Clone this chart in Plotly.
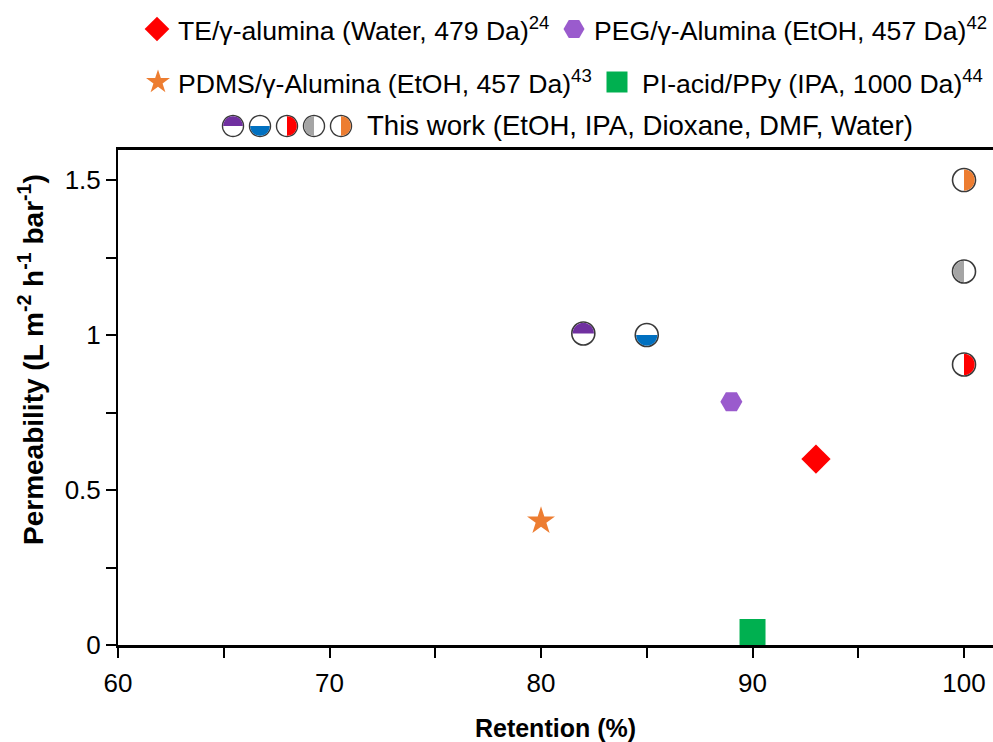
import math
import plotly.graph_objects as go

# ---------------- data ----------------
ref_names = ["TE/γ-alumina (Water, 479 Da)", "PEG/γ-Alumina (EtOH, 457 Da)",
             "PDMS/γ-Alumina (EtOH, 457 Da)", "PI-acid/PPy (IPA, 1000 Da)"]
ref_cites = ["24", "42", "43", "44"]
ref_retention = [93, 89, 80, 90]
ref_permeability = [0.60, 0.785, 0.40, 0.042]
ref_symbols = ["diamond", "hexagon2", "star", "square"]
ref_colors = ["#FF0000", "#9A5BCD", "#ED7D31", "#00B050"]
ref_sizes = [22.5, 22, 21, 26]

work_solvents = ["EtOH", "IPA", "Dioxane", "DMF", "Water"]
work_retention = [82, 85, 100, 100, 100]
work_permeability = [1.005, 1.0, 0.905, 1.205, 1.50]
work_colors = ["#7030A0", "#0070C0", "#FF0000", "#A5A5A5", "#ED7D31"]
work_half = ["top", "bottom", "right", "left", "right"]
work_label = "This work (EtOH, IPA, Dioxane, DMF, Water)"

x_tickvals = [60, 70, 80, 90, 100]
y_tickvals = [0, 0.5, 1, 1.5]
y_ticktext = ["0", "0.5", "1", "1.5"]
x_title = "Retention (%)"
y_title = "Permeability (L m<sup>-2</sup> h<sup>-1</sup> bar<sup>-1</sup>)"

FONT = "Arial, 'Liberation Sans', sans-serif"

# ---------------- geometry helpers (pixel-space styling) ----------------
def half_path(r, side, n=32):
    start = {"top": 0, "left": 90, "bottom": 180, "right": 270}[side]
    pts = []
    for i in range(n + 1):
        a = math.radians(start + 180.0 * i / n)
        pts.append((r * math.cos(a), r * math.sin(a)))
    return "M" + " L".join(f"{x:.2f},{y:.2f}" for x, y in pts) + " Z"

def circle_path(r, n=48):
    pts = []
    for i in range(n):
        a = 2 * math.pi * i / n
        pts.append((r * math.cos(a), r * math.sin(a)))
    return "M" + " L".join(f"{x:.2f},{y:.2f}" for x, y in pts) + " Z"

def symbol_path(sym, size):
    r = size / 2.0
    if sym == "diamond":
        d = r * 1.3
        return f"M{d},0 L0,{d} L{-d},0 L0,{-d} Z"
    if sym == "hexagon2":
        rA = r * 1.05
        rB = rA / 2
        rC = rA * math.sqrt(3) / 2
        return (f"M{-rB},{rC} L{rB},{rC} L{rA},0 L{rB},{-rC} L{-rB},{-rC} L{-rA},0 Z")
    if sym == "square":
        return f"M{r},{r} L{-r},{r} L{-r},{-r} L{r},{-r} Z"
    if sym == "star":
        rs = r * 1.4
        x1, x2, x3, x4 = rs * 0.225, rs * 0.951, rs * 0.363, rs * 0.588
        y1, y2, y3, y4, y5 = -rs, rs * -0.309, rs * 0.118, rs * 0.809, rs * 0.382
        pts = [(x1, y2), (x2, y2), (x3, y3), (x4, y4), (0, y5), (-x4, y4),
               (-x3, y3), (-x2, y2), (-x1, y2), (0, y1)]
        return "M" + " L".join(f"{x:.2f},{-y:.2f}" for x, y in pts) + " Z"
    return ""

fig = go.Figure()

# reference data points
for name, cite, xv, yv, sym, col, sz in zip(ref_names, ref_cites, ref_retention,
                                            ref_permeability, ref_symbols, ref_colors, ref_sizes):
    fig.add_trace(go.Scatter(
        x=[xv], y=[yv], mode="markers", name=f"{name}<sup>{cite}</sup>",
        marker=dict(symbol=sym, size=sz, color=col, line=dict(width=0)),
        cliponaxis=False, showlegend=False))

# this work: white circles with outline
fig.add_trace(go.Scatter(
    x=work_retention, y=work_permeability, mode="markers", name=work_label,
    text=work_solvents,
    marker=dict(symbol="circle", size=23, color="white", line=dict(width=1.6, color="#3a3a3a")),
    cliponaxis=False, showlegend=False))

shapes = []
for xv, yv, col, side in zip(work_retention, work_permeability, work_colors, work_half):
    shapes.append(dict(type="path", xref="x", yref="y", xsizemode="pixel", ysizemode="pixel",
                       xanchor=xv, yanchor=yv, path=half_path(10.6, side),
                       fillcolor=col, line=dict(width=0), layer="above"))

# ---------------- manual legend ----------------
PL, PR, PT, PB = 118, 993, 150, 645
def px2paper_x(px):
    return (px - PL) / (PR - PL)
def px2paper_y(py):
    return (PB - py) / (PB - PT)

annotations = []
legend_pos = [(157, 29, 176), (574, 29, 592), (158, 82, 176), (617, 82, 640)]
leg_sizes = [19, 20, 18, 21]
for (ix, iy, tx), name, cite, sym, col, lsz in zip(legend_pos, ref_names, ref_cites,
                                                   ref_symbols, ref_colors, leg_sizes):
    shapes.append(dict(type="path", xref="paper", yref="paper", xsizemode="pixel", ysizemode="pixel",
                       xanchor=px2paper_x(ix), yanchor=px2paper_y(iy), path=symbol_path(sym, lsz),
                       fillcolor=col, line=dict(width=0), layer="above"))
    annotations.append(dict(xref="paper", yref="paper", x=px2paper_x(tx), y=px2paper_y(iy),
                            xanchor="left", yanchor="middle", showarrow=False,
                            text=f"{name}<sup>{cite}</sup>",
                            font=dict(size=26.6, family=FONT, color="black")))

row3_y = 126
icon_x = [233, 260, 287, 314, 341]
for ix, col, side in zip(icon_x, work_colors, work_half):
    shapes.append(dict(type="path", xref="paper", yref="paper", xsizemode="pixel", ysizemode="pixel",
                       xanchor=px2paper_x(ix), yanchor=px2paper_y(row3_y), path=circle_path(10.5),
                       fillcolor="white", line=dict(width=1.4, color="#3a3a3a"), layer="above"))
    shapes.append(dict(type="path", xref="paper", yref="paper", xsizemode="pixel", ysizemode="pixel",
                       xanchor=px2paper_x(ix), yanchor=px2paper_y(row3_y), path=half_path(9.8, side),
                       fillcolor=col, line=dict(width=0), layer="above"))
annotations.append(dict(xref="paper", yref="paper", x=px2paper_x(365), y=px2paper_y(row3_y),
                        xanchor="left", yanchor="middle", showarrow=False, text=work_label,
                        font=dict(size=27.6, family=FONT, color="black")))

# y-axis title placed as rotated text (shifted upward as in the reference)
annotations.append(dict(xref="paper", yref="paper", x=px2paper_x(31), y=px2paper_y(360),
                        xanchor="center", yanchor="middle", showarrow=False, textangle=-90,
                        text=y_title,
                        font=dict(size=28, family=FONT, color="black", weight="bold")))

fig.update_layout(
    width=993, height=742,
    margin=dict(l=PL, r=993 - PR, t=PT, b=742 - PB, autoexpand=False),
    plot_bgcolor="white", paper_bgcolor="white",
    showlegend=False,
    font=dict(family=FONT, color="black", size=24),
    shapes=shapes, annotations=annotations,
)

fig.update_xaxes(
    range=[60, 101.37], tickmode="array", tickvals=x_tickvals,
    showline=True, linecolor="black", linewidth=2.5, mirror=True,
    ticks="outside", ticklen=10, tickwidth=2, tickcolor="black",
    minor=dict(tick0=60, dtick=5, ticks="outside", ticklen=10, tickwidth=2, tickcolor="black"),
    showgrid=False, zeroline=False, ticklabelstandoff=3,
    tickfont=dict(size=26, family=FONT, color="black"),
    title=dict(text=x_title, standoff=27,
               font=dict(size=25, family=FONT, color="black", weight="bold")),
)
fig.update_yaxes(
    range=[0, 1.597], tickmode="array", tickvals=y_tickvals, ticktext=y_ticktext,
    showline=True, linecolor="black", linewidth=2, mirror=False,
    ticks="outside", ticklen=10, tickwidth=2, tickcolor="black",
    minor=dict(tick0=0, dtick=0.25, ticks="outside", ticklen=10, tickwidth=2, tickcolor="black"),
    showgrid=False, zeroline=False,
    tickfont=dict(size=26, family=FONT, color="black"),
)

fig.write_html("out.html")
